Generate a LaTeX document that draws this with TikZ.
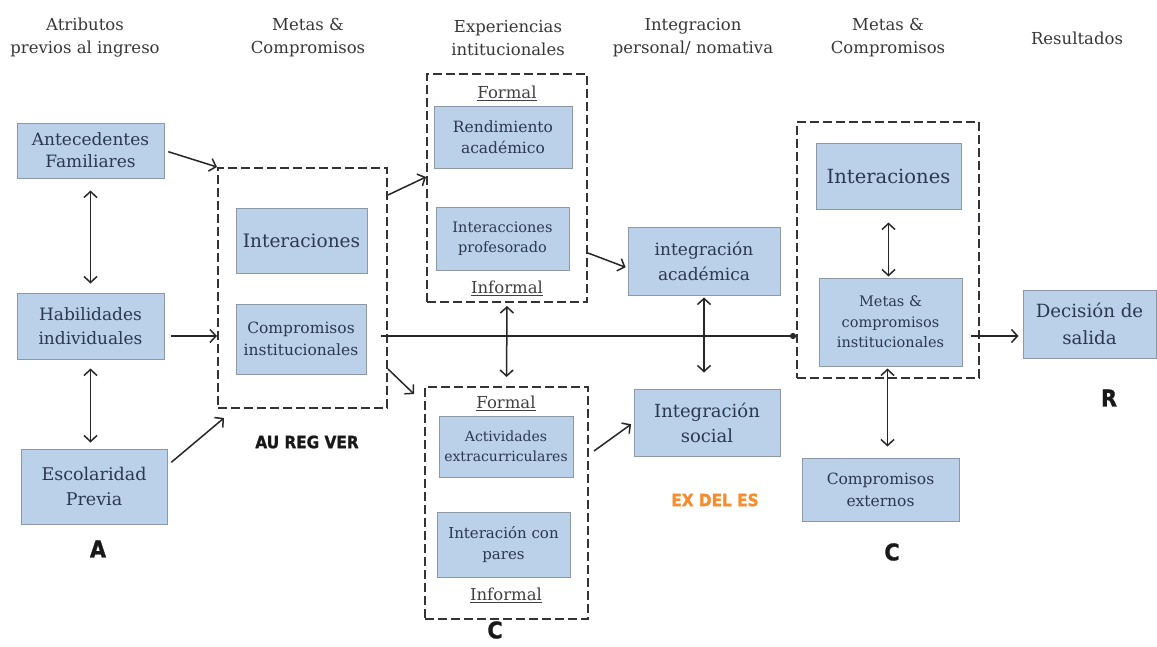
\documentclass[tikz,border=0pt]{standalone}
\usepackage{fontspec}
\setmainfont{DejaVu Serif}
\setsansfont{DejaVu Sans}
\newfontfamily\tagfont{DejaVu Sans}[FakeStretch=0.9,BoldFeatures={FakeBold=1.2}]
\usepackage{tikz}
\usetikzlibrary{arrows,arrows.meta}
\usetikzlibrary{positioning,shapes}
\definecolor{boxblue}{RGB}{187,208,233}
\definecolor{boxline}{RGB}{140,152,166}
\definecolor{boxtext}{RGB}{42,56,80}
\definecolor{headtext}{RGB}{55,55,55}
\definecolor{exorange}{RGB}{245,140,45}
\newcommand{\bxfont}[2]{\fontsize{#1}{#2}\selectfont}

\begin{document}
\begin{tikzpicture}[x=1pt,y=-1pt,>={Straight Barb[length=6pt,width=13pt]},line width=1.5pt,
  blk/.style={draw=boxline,line width=1pt,fill=boxblue,text=boxtext,align=center,inner sep=0pt},
  grp/.style={draw=black!80,dash pattern=on 9pt off 4pt,line width=2pt,inner sep=0pt},
  head/.style={text=headtext,align=center,font=\bxfont{16.5}{23}},
  tag/.style={text=black!90,font=\tagfont\bfseries\bxfont{17}{20}},
  bigtag/.style={tag,inner sep=1pt,font=\tagfont\bfseries\bxfont{23}{26}},
  sub/.style={text=black!75,font=\bxfont{16.5}{18}}]

  \useasboundingbox (0,0) rectangle (1157,646);

  \node[head] (h1) at (85,38) {Atributos\\previos al ingreso};
  \node[head] (h2) at (308,38) {Metas \&\\Compromisos};
  \node[head] (h3) at (508,38) {Experiencias\\intitucionales};
  \node[head] (h4) at (693,38) {Integracion\\personal/ nomativa};
  \node[head] (h5) at (888,38) {Metas \&\\Compromisos};
  \node[head] (h6) at (1077,38) {Resultados};

  \node[blk,minimum width=147,minimum height=55,font=\bxfont{17}{22}] (ante) at (90.5,150.5) {Antecedentes\\Familiares};
  \node[blk,minimum width=147,minimum height=66,font=\bxfont{17}{24}] (hab) at (90.5,326) {Habilidades\\individuales};
  \node[blk,minimum width=146,minimum height=75,font=\bxfont{17.5}{25}] (esc) at (94,486.5) {Escolaridad\\Previa};

  \node[grp,minimum width=169,minimum height=240] (g1) at (302.5,288) {};
  \node[blk,minimum width=131,minimum height=65,font=\bxfont{18.5}{22}] (int1) at (301.5,240.5) {Interaciones};
  \node[blk,minimum width=130,minimum height=70,font=\bxfont{15.5}{22}] (comp1) at (301,339) {Compromisos\\institucionales};

  \node[grp,minimum width=160,minimum height=228] (g2) at (507,188) {};
  \node[sub] (f2) at (507,93) {\underline{Formal}};
  \node[blk,minimum width=138,minimum height=62,font=\bxfont{15.5}{21}] (rend) at (503,137) {Rendimiento\\académico};
  \node[blk,minimum width=133,minimum height=63,font=\bxfont{14.5}{20}] (prof) at (502.5,238.5) {Interacciones\\profesorado};
  \node[sub] (i2) at (507,288) {\underline{Informal}};

  \node[grp,minimum width=163,minimum height=232] (g3) at (506.5,503) {};
  \node[sub] (f3) at (506,403) {\underline{Formal}};
  \node[blk,minimum width=134,minimum height=61,font=\bxfont{14}{20}] (act) at (506,446.5) {Actividades\\extracurriculares};
  \node[blk,minimum width=133,minimum height=65,font=\bxfont{15}{21}] (pares) at (503.5,544.5) {Interación con\\pares};
  \node[sub] (i3) at (506,595) {\underline{Informal}};

  \node[blk,minimum width=152,minimum height=68,font=\bxfont{17}{25}] (acad) at (704,261) {integración\\académica};
  \node[blk,minimum width=146,minimum height=67,font=\bxfont{18}{25}] (soc) at (707,422.5) {Integración\\social};

  \node[grp,minimum width=182,minimum height=256] (g4) at (888,250) {};
  \node[blk,minimum width=145,minimum height=66,font=\bxfont{19.5}{22}] (int2) at (888.5,176) {Interaciones};
  \node[blk,minimum width=143,minimum height=88,font=\bxfont{14.5}{20.5}] (metas) at (890.5,322) {Metas \&\\compromisos\\institucionales};
  \node[blk,minimum width=157,minimum height=63,font=\bxfont{15.5}{22}] (ext) at (880.5,489.5) {Compromisos\\externos};
  \node[blk,minimum width=133,minimum height=68,font=\bxfont{18.2}{27}] (dec) at (1089.5,324) {Decisión de\\salida};

  \node[bigtag] (ta) at (98,549) {A};
  \node[tag] (tau) at (307,442) {AU REG VER};
  \node[bigtag] (tc1) at (495,630) {C};
  \node[tag,text=exorange] (tex) at (715,500) {EX DEL ES};
  \node[bigtag] (tc2) at (892,552) {C};
  \node[bigtag] (tr) at (1109,398) {R};

  \path[->,black!85]
    (ante.east) edge [shorten <=4pt] (g1.north west)
    ([yshift=-10pt]hab.east) edge [shorten <=6pt] ([yshift=-10pt]hab.east -| g1.west)
    ([yshift=-17pt]esc.north east) edge [shorten <=5pt] ([shift={(7pt,-9pt)}]g1.south west)
    ([yshift=-28pt]g1.north east) edge ([yshift=-104pt]g2.north west)
    ([yshift=40pt]g1.south east) edge ([shift={(-10pt,-8pt)}]g3.north west)
    ([yshift=-180pt]g2.north east) edge [shorten >=2pt] ([yshift=-7pt]acad.west)
    ([shift={(5pt,-65pt)}]g3.north east) edge [shorten >=3pt] (soc.west)
    ([shift={(8pt,-14pt)}]metas.east) edge [shorten >=4pt] ([yshift=-14pt]metas.east -| dec.west);

  \path[<->,black!85]
    (ante.south) edge [shorten <=12pt,shorten >=9pt] (hab.north)
    (hab.south) edge [shorten <=9pt,shorten >=6pt] (hab.south |- esc.north)
    (g2.south) edge [shorten <=3pt,shorten >=9pt] (g3.north)
    (acad.south) edge [shorten <=2pt,shorten >=16pt] (acad.south |- soc.north)
    (int2.south) edge [shorten <=13pt,shorten >=1pt] (int2.south |- metas.north)
    ([xshift=-3pt]metas.south) edge [shorten <=2pt,shorten >=11pt] ([xshift=-3pt]metas.south |- ext.north);

  \draw[-{Circle[length=6pt]},line width=1.8pt,black!85] ([shift={(14pt,3pt)}]comp1.east) -- ([yshift=3pt]comp1.east -| g4.west);

\end{tikzpicture}
\end{document}
